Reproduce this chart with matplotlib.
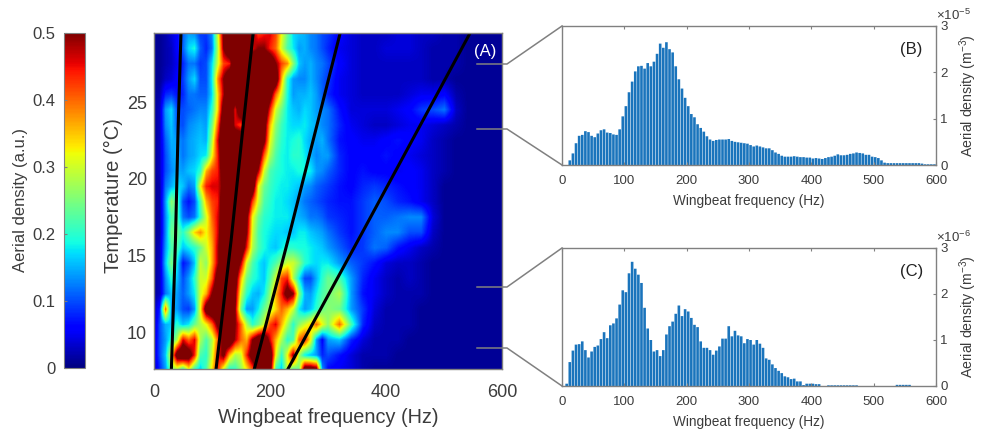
"""Wingbeat frequency heatmap with two histogram panels."""

import matplotlib
matplotlib.use("Agg")
import matplotlib.pyplot as plt
import numpy as np
from matplotlib.lines import Line2D
from matplotlib.patches import Rectangle

W, H = 986, 429
GREY = "#808080"
TXT = "#3c3c3c"

plt.rcParams["font.family"] = ["Liberation Sans", "DejaVu Sans"]
plt.rcParams["mathtext.default"] = "regular"

# heatmap cells, aerial density x 100, rows from warm (29.5 C) to cold (7.5 C)
temp_cells = np.arange(29.5, 7, -1)
temp_range = (7.6, 29.5)
freq_range = (0, 600)

# 0 to 300 Hz, one column per 10 Hz
density_low = np.array([
    [1, 1, 2, 4, 6, 11, 14, 13, 9, 9, 13, 30, 52, 60, 60, 60, 60, 50, 42, 44, 46, 42, 32, 24, 17, 16, 15, 13, 12, 10, 9],
    [1, 1, 2, 3, 6, 11, 17, 19, 11, 8, 12, 28, 50, 60, 60, 60, 60, 46, 50, 50, 44, 40, 30, 22, 18, 14, 15, 13, 12, 10, 8],
    [1, 1, 2, 3, 5, 8, 12, 12, 9, 10, 17, 30, 42, 44, 60, 60, 60, 60, 60, 60, 60, 50, 42, 38, 26, 16, 14, 15, 13, 12, 10],
    [1, 1, 3, 4, 6, 9, 14, 17, 10, 10, 18, 38, 50, 60, 60, 60, 60, 60, 60, 60, 60, 58, 36, 20, 14, 13, 13, 15, 13, 11, 9],
    [1, 2, 8, 9, 7, 8, 12, 12, 11, 11, 17, 34, 48, 60, 60, 60, 60, 60, 60, 60, 55, 40, 30, 19, 14, 15, 15, 16, 14, 11, 8],
    [1, 3, 14, 17, 10, 10, 11, 12, 13, 13, 20, 34, 55, 60, 45, 60, 60, 60, 60, 60, 44, 30, 24, 18, 16, 15, 17, 16, 14, 13, 12],
    [1, 3, 13, 16, 11, 10, 13, 14, 15, 14, 24, 40, 60, 60, 46, 42, 60, 60, 60, 55, 36, 26, 21, 18, 17, 17, 18, 16, 15, 13, 12],
    [1, 3, 11, 15, 14, 12, 14, 15, 16, 15, 28, 46, 60, 60, 60, 60, 60, 60, 60, 52, 32, 24, 20, 18, 19, 20, 17, 15, 14, 15, 12],
    [1, 3, 10, 14, 15, 12, 14, 15, 17, 18, 32, 44, 60, 60, 60, 60, 60, 60, 58, 40, 28, 22, 19, 18, 20, 20, 18, 15, 13, 14, 14],
    [1, 3, 10, 13, 15, 14, 16, 17, 20, 36, 42, 44, 56, 60, 60, 60, 60, 60, 48, 30, 22, 20, 19, 18, 18, 19, 19, 18, 14, 13, 11],
    [1, 2, 12, 15, 18, 16, 12, 14, 32, 44, 46, 46, 52, 60, 60, 60, 60, 58, 32, 24, 21, 19, 18, 18, 17, 16, 14, 13, 11, 10, 9],
    [1, 2, 14, 26, 22, 10, 7, 10, 22, 36, 42, 44, 58, 60, 60, 60, 60, 42, 30, 22, 20, 18, 18, 17, 16, 14, 12, 11, 10, 9, 8],
    [1, 2, 13, 22, 22, 12, 10, 12, 20, 30, 40, 46, 56, 60, 60, 60, 52, 32, 24, 20, 19, 18, 18, 18, 16, 15, 14, 12, 12, 11, 9],
    [1, 2, 13, 24, 24, 20, 26, 34, 38, 32, 38, 46, 60, 60, 60, 60, 50, 30, 22, 19, 18, 17, 17, 16, 16, 18, 18, 16, 15, 14, 12],
    [1, 3, 14, 22, 22, 16, 18, 20, 24, 30, 36, 48, 60, 60, 60, 60, 44, 28, 22, 19, 17, 16, 18, 20, 20, 19, 19, 18, 17, 16, 14],
    [1, 3, 16, 25, 18, 7, 10, 16, 30, 26, 36, 48, 60, 60, 60, 48, 30, 22, 18, 16, 19, 22, 26, 30, 30, 26, 20, 18, 17, 18, 18],
    [1, 3, 13, 20, 16, 10, 14, 20, 30, 30, 40, 56, 60, 60, 56, 36, 24, 20, 18, 16, 22, 30, 42, 44, 28, 18, 10, 10, 15, 20, 24],
    [1, 3, 12, 16, 14, 11, 14, 18, 30, 36, 50, 60, 60, 60, 52, 30, 20, 16, 15, 18, 26, 36, 44, 55, 50, 26, 15, 14, 18, 22, 24],
    [2, 8, 40, 14, 14, 10, 9, 14, 32, 56, 60, 60, 60, 60, 50, 24, 14, 14, 18, 24, 28, 34, 40, 36, 30, 18, 14, 16, 20, 24, 26],
    [2, 10, 15, 16, 20, 16, 18, 24, 28, 32, 40, 52, 60, 60, 50, 40, 28, 20, 24, 30, 42, 46, 36, 28, 20, 26, 30, 34, 40, 32, 26],
    [3, 10, 14, 20, 28, 46, 40, 46, 28, 22, 28, 40, 55, 60, 48, 40, 36, 50, 58, 60, 46, 36, 28, 20, 22, 40, 44, 32, 14, 6, 14],
    [3, 10, 16, 32, 56, 60, 56, 44, 22, 20, 30, 44, 52, 36, 28, 30, 44, 56, 60, 60, 58, 32, 20, 32, 50, 28, 18, 16, 14, 8, 10],
    [2, 8, 14, 24, 26, 18, 30, 18, 16, 22, 34, 44, 28, 18, 20, 26, 32, 40, 60, 60, 56, 20, 16, 30, 20, 24, 60, 60, 56, 14, 6],
]) / 100

# 320 to 600 Hz, one column per 20 Hz
density_high = np.array([
    [6, 4, 3, 3, 3, 4, 4, 3, 3, 2, 2, 1, 1, 1, 1],
    [5, 4, 3, 3, 4, 4, 4, 3, 2, 2, 2, 1, 1, 1, 1],
    [6, 4, 3, 3, 3, 3, 3, 3, 2, 2, 2, 1, 1, 1, 1],
    [5, 4, 3, 3, 3, 3, 3, 3, 2, 2, 1, 1, 1, 1, 1],
    [5, 4, 3, 3, 3, 3, 4, 5, 5, 6, 2, 1, 1, 1, 1],
    [7, 4, 4, 4, 4, 5, 6, 9, 10, 12, 3, 1, 1, 1, 1],
    [8, 5, 4, 3, 3, 4, 5, 5, 4, 3, 2, 1, 1, 1, 1],
    [7, 6, 5, 5, 6, 7, 6, 5, 3, 2, 1, 1, 1, 1, 1],
    [8, 6, 6, 6, 7, 6, 5, 4, 3, 2, 1, 1, 1, 1, 1],
    [8, 6, 7, 6, 6, 5, 6, 5, 3, 2, 1, 1, 1, 1, 1],
    [7, 6, 8, 9, 8, 7, 6, 5, 3, 1, 1, 1, 1, 1, 1],
    [7, 7, 9, 11, 10, 8, 7, 5, 3, 1, 1, 1, 1, 1, 1],
    [8, 7, 9, 11, 11, 12, 13, 13, 4, 1, 1, 1, 1, 1, 1],
    [9, 7, 9, 11, 13, 13, 10, 10, 3, 1, 1, 1, 1, 1, 1],
    [11, 8, 9, 12, 11, 7, 5, 3, 2, 1, 1, 1, 1, 1, 1],
    [14, 11, 9, 7, 4, 3, 3, 2, 1, 1, 1, 1, 1, 1, 1],
    [22, 14, 8, 5, 3, 2, 3, 2, 1, 1, 1, 1, 1, 1, 1],
    [28, 14, 7, 5, 3, 2, 2, 2, 1, 1, 1, 1, 1, 1, 1],
    [24, 14, 9, 4, 2, 2, 2, 1, 1, 1, 1, 1, 1, 1, 1],
    [40, 22, 8, 3, 2, 2, 2, 1, 1, 1, 1, 1, 1, 1, 1],
    [16, 8, 4, 2, 2, 2, 1, 1, 1, 1, 1, 1, 1, 1, 1],
    [7, 4, 2, 2, 2, 1, 1, 1, 1, 1, 1, 1, 1, 1, 1],
    [5, 4, 2, 1, 1, 1, 1, 1, 1, 1, 1, 1, 1, 1, 1],
]) / 100

# black harmonic curves, frequency at each temperature
curve_temps = [7.6, 16, 23.2, 29.5]
curve_1 = [30, 37, 41.5, 46.5]
curve_2 = [107, 133, 153, 171]
curve_3 = [173, 231, 279, 321]
curve_4 = [231, 352, 455, 545]

# histograms, 5 Hz bins from 0 to 600 Hz
bin_centres = np.arange(2.5, 600, 5)
hist_b = [
    0, 0, .10, .25, .47, .63, .65, .73, .71, .63, .60, .68, .75, .77, .70, .69, .66, .65, .77, 1.05,
    1.27, 1.57, 1.80, 2.02, 2.13, 2.14, 2.08, 2.20, 2.13, 2.23, 2.40, 2.62, 2.53, 2.65, 2.50, 2.43, 2.13, 1.85, 1.65, 1.45,
    1.27, 1.10, 1.03, .88, .80, .72, .62, .55, .52, .54, .55, .55, .55, .56, .52, .50, .49, .48, .47, .46,
    .43, .40, .42, .40, .38, .36, .36, .32, .27, .24, .20, .18, .18, .18, .19, .18, .17, .17, .16, .16,
    .14, .15, .14, .13, .15, .17, .18, .20, .23, .21, .21, .22, .24, .25, .27, .26, .25, .22, .22, .18,
    .17, .15, .10, .05, .04, .04, .04, .04, .04, .04, .04, .04, .04, .04, .04, .03, .015, .015, .015, .015,
]
hist_c = [
    0, .05, .52, .77, .90, .91, .97, .78, .62, .75, .85, .88, 1.02, 1.17, 1.04, 1.32, 1.36, 1.47, 1.77, 2.08,
    2.04, 2.45, 2.70, 2.55, 2.42, 2.24, 1.70, 1.25, 1.00, .75, .78, .65, .78, 1.12, 1.30, 1.40, 1.57, 1.75, 1.52, 1.67,
    1.62, 1.48, 1.33, 1.28, .97, .83, .83, .78, .68, .77, .86, 1.03, 1.03, 1.30, 1.08, 1.20, 1.10, 1.08, .93, 1.02,
    1.00, .90, 1.00, .92, .83, .60, .57, .47, .39, .33, .28, .21, .19, .15, .16, .10, .10, .02, .05, .05,
    .05, .04, .04, 0, 0, .015, .015, .015, .015, .015, .015, .015, .015, .015, .015, 0, 0, 0, 0, 0,
    0, 0, 0, 0, 0, 0, 0, .025, .025, .025, .025, .025, 0, 0, 0, 0, 0, 0, 0, 0,
]

hist_ticks = [0, 100, 200, 300, 400, 500, 600]
density_ticks = [0, 1, 2, 3]
cbar_ticks = [0, 0.1, 0.2, 0.3, 0.4, 0.5]
cbar_labels = ["0", "0.1", "0.2", "0.3", "0.4", "0.5"]


def pixel_axes(fig, left, top, right, bottom):
    """Add axes from pixel edges measured on the picture."""
    return fig.add_axes([left / W, 1 - bottom / H, (right - left) / W, (bottom - top) / H])


def style_frame(ax):
    for side in ax.spines.values():
        side.set_color(GREY)
        side.set_linewidth(1.0)


def histogram(fig, top, bottom, values, exponent, tag):
    ax = pixel_axes(fig, 562, top, 936, bottom)
    # snap off so the gaps blend to a pale line like the source
    ax.bar(bin_centres, values, width=4.2, color="#1a74bc", linewidth=0, snap=False)
    ax.set_xlim(0, 600)
    ax.set_ylim(0, 3)
    ax.set_xticks(hist_ticks)
    ax.set_yticks(density_ticks)
    ax.yaxis.tick_right()
    ax.yaxis.set_label_position("right")
    ax.tick_params(axis="both", direction="in", length=2.5, width=0.8, color=GREY,
                   labelcolor=TXT, labelsize=9.5, top=True)
    ax.tick_params(axis="x", pad=7)
    ax.tick_params(axis="y", pad=3)
    ax.set_xlabel("Wingbeat frequency (Hz)", fontsize=9.8, color=TXT, labelpad=5)
    ax.set_ylabel("Aerial density (m$^{-3}$)", fontsize=10.2, color=TXT, labelpad=7)
    ax.text(1.0, 1.025, r"$\times 10^{%d}$" % exponent, transform=ax.transAxes,
            fontsize=9.5, color=TXT, va="bottom", ha="left")
    ax.text(0.9345, 0.83, tag, transform=ax.transAxes, fontsize=12, color="#222222",
            ha="center", va="center")
    style_frame(ax)
    return ax


def connector(fig, points):
    xs = [p[0] / W for p in points]
    ys = [1 - p[1] / H for p in points]
    fig.add_artist(Line2D(xs, ys, color=GREY, linewidth=1.1, transform=fig.transFigure))


fig = plt.figure(figsize=(W / 100, H / 100), dpi=100)

# main heatmap, drawn in two parts because the column spacing changes at 300 Hz
ax_map = pixel_axes(fig, 154, 33, 502, 369)
row_edges = [temp_cells[-1] - 0.5, temp_cells[0] + 0.5]
im = ax_map.imshow(density_low, cmap="jet", vmin=0, vmax=0.5, aspect="auto",
                   interpolation="bilinear", origin="upper",
                   extent=[-5, 305, row_edges[0], row_edges[1]])
# the right part starts from the shared 300 Hz column so no seam shows
im_high = ax_map.imshow(np.column_stack([density_low[:, -1], density_high]),
                        cmap="jet", vmin=0, vmax=0.5, aspect="auto",
                        interpolation="bilinear", origin="upper",
                        extent=[290, 610, row_edges[0], row_edges[1]])
im_high.set_clip_path(Rectangle((300, temp_range[0]), freq_range[1] - 300,
                                temp_range[1] - temp_range[0],
                                transform=ax_map.transData))
for curve in (curve_1, curve_2, curve_3, curve_4):
    ax_map.plot(curve, curve_temps, color="black", linewidth=2.2)
ax_map.set_xlim(*freq_range)
ax_map.set_ylim(*temp_range)
ax_map.set_xticks([0, 200, 400, 600])
ax_map.set_yticks([10, 15, 20, 25])
ax_map.tick_params(axis="both", length=0, labelsize=13, labelcolor=TXT)
ax_map.tick_params(axis="x", pad=11)
ax_map.tick_params(axis="y", pad=5)
ax_map.set_xlabel("Wingbeat frequency (Hz)", fontsize=14.3, color=TXT, labelpad=5)
ax_map.set_ylabel("Temperature (°C)", fontsize=14.5, color=TXT, labelpad=3, y=0.515)
ax_map.text(571, 28.3, "(A)", color="white", fontsize=12, ha="center", va="center")
style_frame(ax_map)

# colour bar on the far left
ax_bar = pixel_axes(fig, 64, 33, 85, 368)
cbar = fig.colorbar(im, cax=ax_bar, ticks=cbar_ticks)
ax_bar.yaxis.tick_left()
ax_bar.yaxis.set_label_position("left")
ax_bar.set_yticklabels(cbar_labels)
ax_bar.tick_params(length=2, width=0.8, color=GREY, direction="in", labelsize=12,
                   labelcolor=TXT, pad=6)
cbar.set_label("Aerial density (a.u.)", fontsize=12, color=TXT, labelpad=3)
cbar.outline.set_edgecolor(GREY)

histogram(fig, 26, 165, hist_b, -5, "(B)")
histogram(fig, 248, 386, hist_c, -6, "(C)")

# grey zoom connectors between the heatmap and the side panels
connector(fig, [(477, 64), (507, 64), (562, 26)])
connector(fig, [(477, 129), (507, 129), (562, 165)])
connector(fig, [(477, 287), (507, 287), (562, 248)])
connector(fig, [(477, 348), (507, 348), (562, 386)])

fig.savefig("out.png", dpi=100)
